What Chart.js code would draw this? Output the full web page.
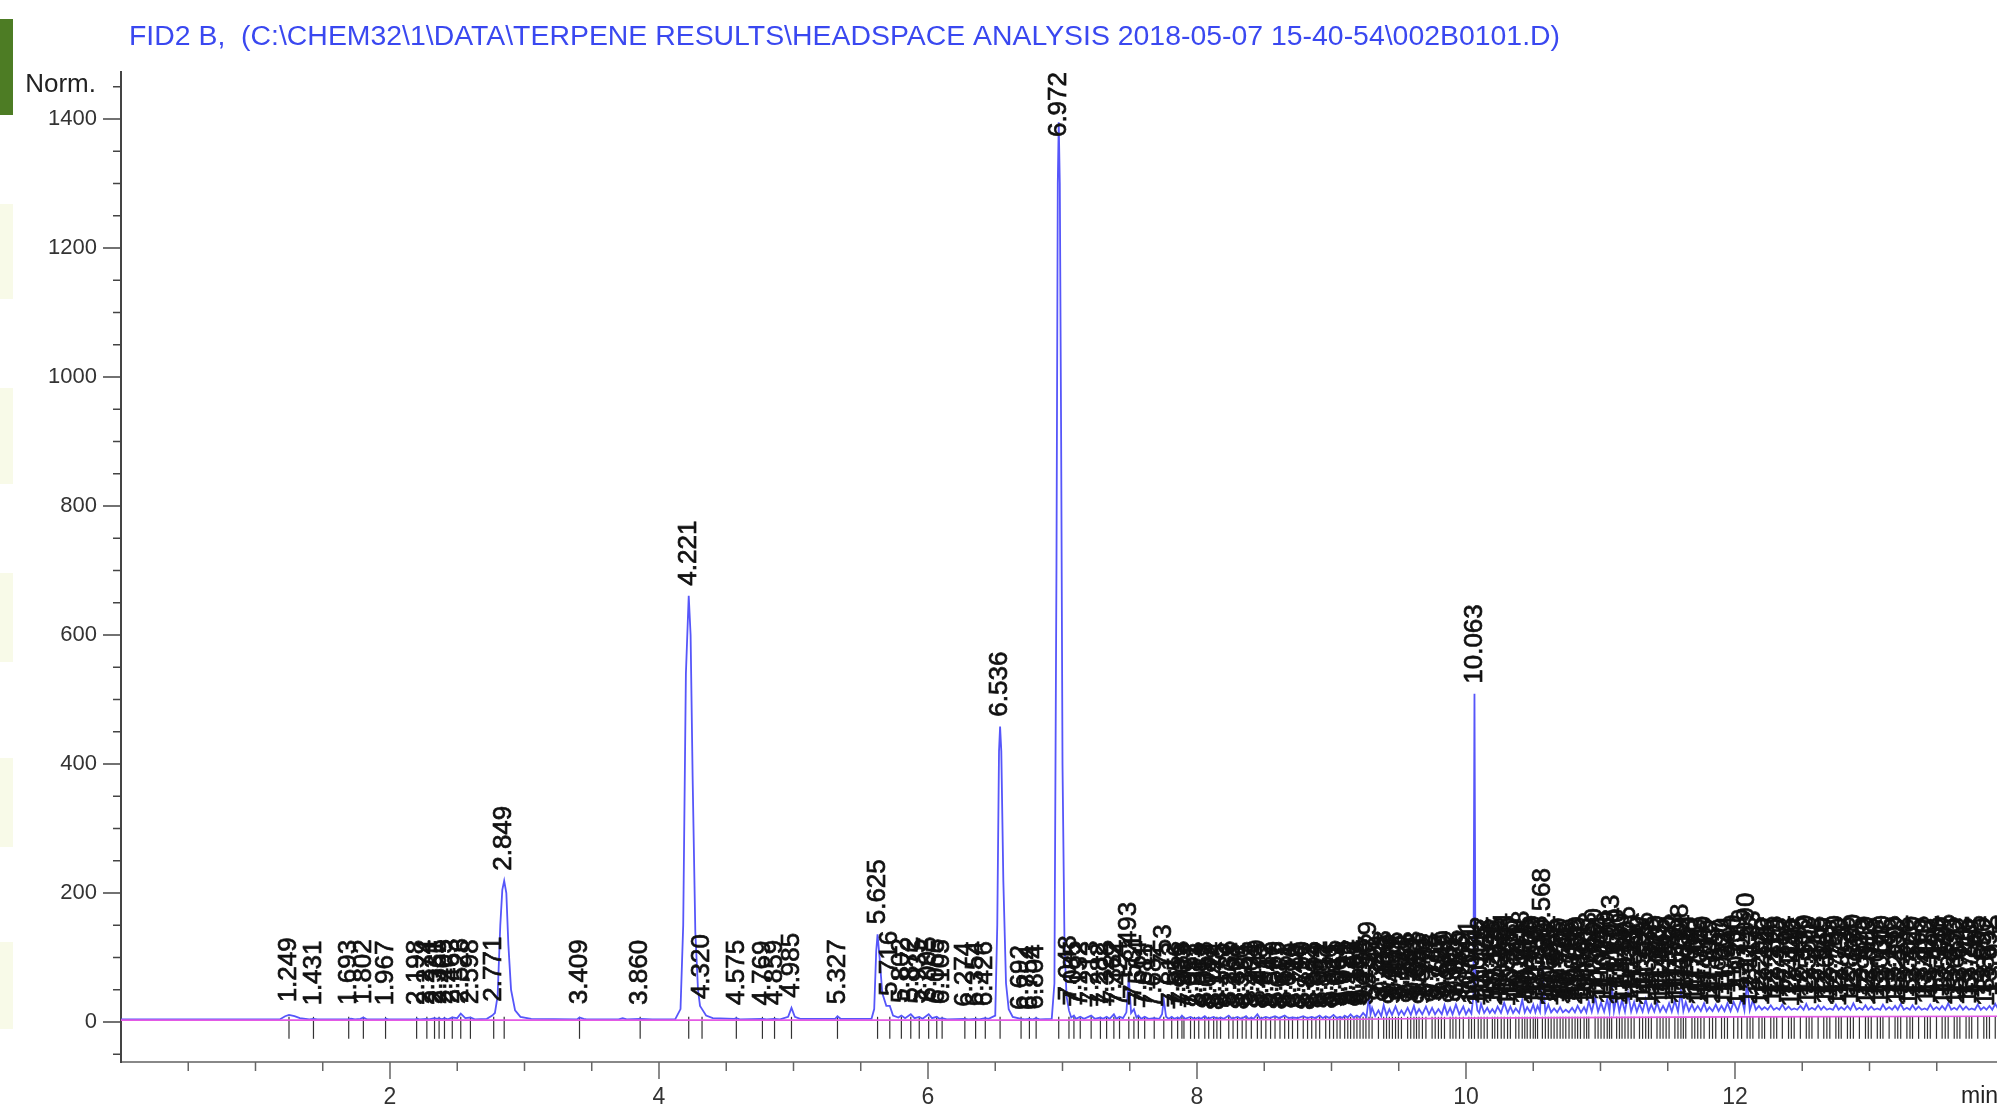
<!DOCTYPE html>
<html>
<head>
<meta charset="utf-8">
<script src="https://cdn.jsdelivr.net/npm/chart.js@4.4.1/dist/chart.umd.min.js"></script>
<style>
html, body { margin: 0; padding: 0; background: #fff; overflow: hidden; }
#wrap { position: relative; width: 1997px; height: 1107px; }
#wrap canvas { position: absolute; left: 0; top: 0; }
.side { position: absolute; left: 0; width: 13px; background: #f8fae8; }
#green { position: absolute; left: 0; top: 19px; width: 13px; height: 96px; background: #4d7c24; }
</style>
</head>
<body>
<div id="wrap">
  <div id="green"></div>
  <div class="side" style="top:204px;height:95px"></div>
  <div class="side" style="top:388px;height:96px"></div>
  <div class="side" style="top:573px;height:89px"></div>
  <div class="side" style="top:758px;height:89px"></div>
  <div class="side" style="top:942px;height:87px"></div>
  <canvas id="chart" width="1997" height="1107"></canvas>
</div>
<script>
// FID2 B signal, terpene headspace run
const titleText = "FID2 B,  (C:\\CHEM32\\1\\DATA\\TERPENE RESULTS\\HEADSPACE ANALYSIS 2018-05-07 15-40-54\\002B0101.D)";
const yLabelValues = [0, 200, 400, 600, 800, 1000, 1200, 1400];
const xLabelValues = [2, 4, 6, 8, 10, 12];

// integrated peaks: retention time (min) and apex height (norm.)
const peakTimes = [
  1.249, 1.431, 1.693, 1.802, 1.967, 2.198, 2.274, 2.331, 2.365, 2.405, 2.463, 2.526, 2.598, 2.771, 2.849,
  3.409, 3.860, 4.221, 4.320, 4.575, 4.769, 4.859, 4.985, 5.327, 5.625, 5.716, 5.802, 5.872, 5.935, 6.005,
  6.065, 6.105, 6.274, 6.354, 6.426, 6.536, 6.692, 6.754, 6.804, 6.972,
  7.048, 7.085, 7.132, 7.213, 7.282, 7.328, 7.382, 7.424, 7.493, 7.531, 7.564, 7.611, 7.682, 7.753, 7.812,
  7.856, 7.888, 7.952, 8.013, 8.058, 8.124, 8.175, 8.236, 8.301, 8.365, 8.404, 8.449, 8.512, 8.580, 8.652,
  8.710, 8.790, 8.853, 8.912, 8.957, 9.015, 9.064, 9.098, 9.142, 9.189, 9.235, 9.279, 9.302, 9.349, 9.388,
  9.430, 9.476, 9.520, 9.566, 9.613, 9.651, 9.702, 9.748, 9.795, 9.840, 9.882, 9.925, 9.980, 10.021, 10.063,
  10.112, 10.158, 10.196, 10.235, 10.284, 10.330, 10.370, 10.418, 10.455, 10.500, 10.532, 10.568, 10.612, 10.655, 10.700,
  10.742, 10.789, 10.830, 10.878, 10.913, 10.960, 11.004, 11.050, 11.083, 11.120, 11.160, 11.205, 11.250, 11.290, 11.336,
  11.378, 11.420, 11.465, 11.510, 11.553, 11.598, 11.634, 11.680, 11.723, 11.770, 11.810, 11.857, 11.900, 11.944, 11.990,
  12.049, 12.090, 12.133, 12.178, 12.220, 12.266, 12.310, 12.352, 12.398, 12.440, 12.486, 12.530, 12.572, 12.618, 12.660,
  12.705, 12.750, 12.790, 12.836, 12.880, 12.925, 12.970, 13.013, 13.058, 13.100, 13.146, 13.190, 13.232, 13.278, 13.320,
  13.365, 13.410, 13.452, 13.498, 13.540, 13.585, 13.630, 13.672, 13.718, 13.760, 13.805, 13.850, 13.892, 13.935,
  7.903, 7.981, 8.087, 8.148, 8.268, 8.336, 8.478, 8.547, 8.617, 8.681, 8.748, 8.822, 8.884, 8.986, 9.041,
  9.121, 9.167, 9.212, 9.256, 9.409, 9.453, 9.497, 9.589, 9.632, 9.676, 9.771, 9.817, 9.903, 9.952, 10.041,
  10.135, 10.262, 10.393, 10.478, 10.590, 10.677, 10.766, 10.851, 10.982, 11.027, 11.182, 11.313, 11.443, 11.576, 11.701,
  10.091, 10.214, 10.309, 10.437, 10.516, 10.633, 10.721, 10.811, 10.897, 11.067, 11.141, 11.228, 11.357, 11.488, 11.616,
  11.746, 11.833, 11.922, 12.021, 12.112, 12.201, 12.289, 12.419, 12.551, 12.683, 12.771, 12.858, 12.991, 13.081, 13.210,
  13.301, 13.431, 13.563, 13.651, 13.741, 13.871
];
const peakHeights = [
  15, 10, 11, 12, 10, 11, 11, 12, 12, 12, 13, 14, 12, 16, 219,
  12, 11, 661, 20, 11, 10, 11, 22, 12, 136, 25, 14, 16, 13, 16,
  13, 12, 8, 9, 9, 458, 3, 3, 4, 1395,
  18, 10, 8, 10, 7, 8, 12, 8, 70, 20, 10, 8, 6, 35, 8,
  7, 10, 8, 7, 9, 8, 7, 10, 8, 9, 7, 12, 8, 9, 10,
  7, 9, 8, 10, 9, 11, 8, 10, 12, 10, 14, 40, 22, 18, 26,
  20, 24, 18, 22, 25, 20, 24, 22, 20, 26, 22, 27, 24, 20, 509,
  28, 22, 20, 24, 30, 24, 21, 34, 23, 27, 25, 100, 27, 21, 23,
  19, 22, 25, 23, 32, 38, 30, 36, 62, 40, 34, 44, 31, 28, 35,
  27, 30, 25, 29, 33, 48, 31, 27, 25, 29, 23, 27, 25, 29, 31,
  37, 62, 34, 25, 23, 26, 22, 27, 24, 21, 25, 28, 22, 26, 24,
  21, 27, 23, 25, 29, 22, 26, 24, 21, 27, 23, 25, 28, 22, 26,
  24, 21, 27, 23, 25, 29, 22, 26, 24, 21, 27, 23, 25, 28,
  4, 6, 5, 3, 6, 4, 5, 7, 4, 6, 5, 3, 6, 5, 7,
  9, 12, 8, 10, 16, 12, 18, 14, 17, 12, 15, 18, 14, 16, 12,
  14, 17, 15, 19, 16, 14, 17, 15, 20, 18, 16, 19, 17, 18, 16,
  9, 11, 8, 12, 10, 9, 13, 10, 11, 12, 10, 13, 9, 11, 12,
  10, 13, 11, 9, 12, 10, 13, 8, 11, 12, 9, 13, 10, 11, 12,
  9, 13, 10, 11, 12, 9
];

// detector trace [time, signal]
const trace = [
  [0.00,4],[1.18,4],[1.22,9],[1.249,11],[1.29,9],[1.33,6],[1.40,4],[1.431,5],[1.46,4],[1.69,4],[1.71,5],[1.74,4],
  [1.78,5],[1.802,7],[1.83,4],[1.96,4],[1.967,5],[1.99,4],[2.19,4],[2.198,5],[2.22,4],[2.274,5],[2.29,4],[2.331,6],
  [2.35,5],[2.365,6],[2.385,4],[2.405,6],[2.43,4],[2.463,7],[2.50,6],[2.526,13],[2.56,6],[2.598,7],[2.63,4],[2.72,5],
  [2.76,10],[2.78,14],[2.80,40],[2.82,150],[2.835,205],[2.849,219],[2.865,200],[2.88,120],[2.90,50],[2.93,18],[2.97,8],
  [3.05,5],[3.39,4],[3.409,7],[3.44,5],[3.46,4],[3.70,4],[3.73,6],[3.76,4],[3.86,5],[3.95,4],[4.12,4],[4.16,20],
  [4.18,150],[4.20,540],[4.221,661],[4.235,600],[4.25,380],[4.27,140],[4.29,50],[4.305,25],[4.32,20],[4.35,10],[4.40,6],
  [4.56,5],[4.575,6],[4.60,4],[4.769,5],[4.80,4],[4.859,5],[4.90,4],[4.96,8],[4.985,22],[5.01,8],[5.05,5],[5.31,5],
  [5.327,9],[5.35,5],[5.58,5],[5.60,20],[5.615,110],[5.625,136],[5.64,100],[5.66,45],[5.69,25],[5.716,25],[5.74,10],
  [5.78,7],[5.802,10],[5.83,6],[5.872,12],[5.90,6],[5.935,8],[5.96,5],[6.005,12],[6.03,6],[6.065,8],[6.085,5],[6.105,6],
  [6.14,4],[6.274,5],[6.30,4],[6.354,5],[6.38,4],[6.426,6],[6.45,5],[6.50,10],[6.515,150],[6.528,420],[6.536,458],
  [6.545,420],[6.56,220],[6.58,60],[6.60,20],[6.63,8],[6.692,5],[6.72,4],[6.754,5],[6.78,4],[6.804,6],[6.83,4],[6.92,5],
  [6.94,60],[6.955,700],[6.965,1300],[6.972,1395],[6.98,1300],[6.99,900],[7.00,400],[7.015,120],[7.03,40],[7.048,18],
  [7.065,7],[7.085,10],[7.10,5],[7.132,8],[7.16,5],[7.213,10],[7.24,5],[7.282,7],[7.30,5],[7.328,8],[7.35,5],[7.382,12],
  [7.40,5],[7.424,8],[7.45,6],[7.475,15],[7.493,70],[7.51,14],[7.531,20],[7.55,7],[7.564,10],[7.585,5],[7.611,8],
  [7.64,5],[7.682,6],[7.72,5],[7.74,12],[7.753,35],[7.77,8],[7.79,5],[7.812,8],[7.83,5],[7.856,7],[7.87,5],[7.888,10],
  [7.91,5],[7.952,8],[7.98,5],[8.013,7],[8.03,5],[8.058,9],[8.08,5],[8.124,8],[8.15,5],[8.175,7],[8.20,5],[8.236,10],
  [8.26,5],[8.301,8],[8.33,5],[8.365,9],[8.385,5],[8.404,7],[8.42,5],[8.449,12],[8.47,5],[8.512,8],[8.54,6],[8.580,9],
  [8.61,6],[8.652,10],[8.68,6],[8.710,7],[8.75,6],[8.790,9],[8.82,6],[8.853,8],[8.88,6],[8.912,10],[8.935,6],[8.957,9],
  [8.985,6],[9.015,11],[9.04,6],[9.064,8],[9.08,6],[9.098,10],[9.12,7],[9.142,12],[9.165,7],[9.189,10],[9.21,7],
  [9.235,14],[9.26,8],[9.279,40],[9.29,12],[9.302,22],[9.325,9],[9.349,18],[9.37,9],[9.388,26],[9.41,10],[9.430,20],
  [9.45,11],[9.476,24],[9.50,11],[9.520,18],[9.54,11],[9.566,22],[9.59,11],[9.613,25],[9.63,12],[9.651,20],[9.675,12],
  [9.702,24],[9.725,12],[9.748,22],[9.77,12],[9.795,20],[9.82,12],[9.840,26],[9.86,12],[9.882,22],[9.90,12],[9.925,27],
  [9.95,12],[9.980,24],[10.00,12],[10.021,20],[10.04,13],[10.055,40],[10.063,509],[10.071,40],
  [10.085,18],[10.098,14],[10.112,28],[10.135,14],[10.158,22],[10.177,14],[10.196,20],[10.215,14],[10.235,24],[10.26,14],
  [10.284,30],[10.31,14],[10.330,24],[10.35,14],[10.370,21],[10.395,14],[10.418,34],[10.437,15],[10.455,23],[10.478,15],
  [10.500,27],[10.516,15],[10.532,25],[10.55,16],[10.562,60],[10.568,100],[10.574,60],[10.59,15],[10.612,27],[10.633,15],
  [10.655,21],[10.678,15],[10.700,23],[10.72,15],[10.742,19],[10.765,15],[10.789,22],[10.81,15],[10.830,25],[10.855,15],
  [10.878,23],[10.895,15],[10.913,32],[10.935,16],[10.960,38],[10.982,16],[11.004,30],[11.027,16],[11.050,36],[11.067,16],
  [11.083,62],[11.10,17],[11.120,40],[11.14,16],[11.160,34],[11.182,16],[11.205,44],[11.228,16],[11.250,31],[11.27,16],
  [11.290,28],[11.313,16],[11.336,35],[11.357,16],[11.378,27],[11.40,16],[11.420,30],[11.443,16],[11.465,25],[11.488,16],
  [11.510,29],[11.53,16],[11.553,33],[11.576,16],[11.598,48],[11.616,17],[11.634,31],[11.657,17],[11.680,27],[11.70,17],
  [11.723,25],[11.746,17],[11.770,29],[11.79,17],[11.810,23],[11.833,17],[11.857,27],[11.878,17],[11.900,25],[11.922,17],
  [11.944,29],[11.967,17],[11.990,31],[12.02,17],[12.049,37],[12.07,18],[12.090,62],[12.11,18],[12.133,34],[12.155,19],
  [12.178,25],[12.20,19],[12.220,23],[12.243,19],[12.266,26],[12.288,19],[12.310,22],[12.33,19],[12.352,27],[12.375,19],
  [12.398,24],[12.42,19],[12.440,21],[12.463,19],[12.486,25],[12.51,19],[12.530,28],[12.55,19],[12.572,22],[12.595,19],
  [12.618,26],[12.64,19],[12.660,24],[12.683,19],[12.705,21],[12.728,19],[12.750,27],[12.77,19],[12.790,23],[12.813,19],
  [12.836,25],[12.858,19],[12.880,29],[12.903,19],[12.925,22],[12.948,19],[12.970,26],[12.99,19],[13.013,24],[13.035,19],
  [13.058,21],[13.08,19],[13.100,27],[13.123,19],[13.146,23],[13.168,19],[13.190,25],[13.21,19],[13.232,28],[13.255,19],
  [13.278,22],[13.30,19],[13.320,26],[13.343,19],[13.365,24],[13.388,19],[13.410,21],[13.43,19],[13.452,27],[13.475,19],
  [13.498,23],[13.52,19],[13.540,25],[13.563,19],[13.585,29],[13.608,19],[13.630,22],[13.65,19],[13.672,26],[13.695,19],
  [13.718,24],[13.74,19],[13.760,21],[13.783,19],[13.805,27],[13.828,19],[13.850,23],[13.87,19],[13.892,25],[13.913,19],
  [13.935,28],[13.96,19],[14.00,19]
];

// integration baseline [time, signal]
const baseline = [[0.00,3],[7.00,3],[9.00,4],[10.00,6],[12.00,8],[14.00,9]];

const FONT = '"Liberation Sans", Arial, Helvetica, sans-serif';
const markerLevel = -9;

// axis tick marks, major longer than minor
const tickMarks = {
  id: "tickMarks",
  afterDraw(chart){
    const ctx = chart.ctx;
    const xs = chart.scales.x, ys = chart.scales.y;
    ctx.save();
    ctx.strokeStyle = "#444";
    ctx.lineWidth = 1.5;
    ctx.beginPath();
    for(let i in ys.ticks){
      const v = ys.ticks[i].value;
      const py = ys.getPixelForValue(v);
      const len = yLabelValues.includes(v) ? 18 : 8;
      ctx.moveTo(ys.right - len, py);
      ctx.lineTo(ys.right, py);
    }
    ctx.stroke();
    ctx.strokeStyle = "#666";
    ctx.beginPath();
    for(let i in xs.ticks){
      const v = xs.ticks[i].value;
      const px = xs.getPixelForValue(v);
      const len = xLabelValues.includes(v) ? 17 : 9;
      ctx.moveTo(px, xs.top);
      ctx.lineTo(px, xs.top + len);
    }
    ctx.stroke();
    ctx.restore();
  }
};

// rotated retention-time labels above each apex
const peakLabels = {
  id: "peakLabels",
  afterDatasetsDraw(chart){
    const ctx = chart.ctx;
    const area = chart.chartArea;
    const xs = chart.scales.x, ys = chart.scales.y;
    ctx.save();
    ctx.font = "26px " + FONT;
    ctx.fillStyle = "#111";
    ctx.strokeStyle = "#111";
    ctx.lineWidth = 0.7;
    ctx.textAlign = "left";
    ctx.textBaseline = "middle";
    for(let i = 0; i < peakTimes.length; i++){
      const t = peakTimes[i];
      if(t > xs.max) continue;
      const txt = t.toFixed(3);
      const w = ctx.measureText(txt).width;
      const px = xs.getPixelForValue(t);
      let bottom = ys.getPixelForValue(peakHeights[i]) - 10;
      if(bottom - w < area.top) bottom = area.top + w;
      ctx.save();
      ctx.translate(px, bottom);
      ctx.rotate(-Math.PI / 2);
      ctx.fillText(txt, 0, 0);
      ctx.strokeText(txt, 0, 0);
      ctx.restore();
    }
    ctx.restore();
  }
};

// header text, "Norm." and "min"
const headerText = {
  id: "headerText",
  afterDraw(chart){
    const ctx = chart.ctx;
    ctx.save();
    ctx.textBaseline = "middle";
    ctx.font = "27px " + FONT;
    ctx.fillStyle = "#3a48f0";
    const w = ctx.measureText(titleText).width;
    ctx.save();
    ctx.translate(129, 38);
    ctx.scale(1431 / w, 1);
    ctx.textAlign = "left";
    ctx.fillText(titleText, 0, 0);
    ctx.restore();

    ctx.fillStyle = "#222";
    ctx.font = "26px " + FONT;
    ctx.textAlign = "right";
    ctx.fillText("Norm.", 96, 85);
    ctx.font = "23px " + FONT;
    ctx.textAlign = "left";
    ctx.fillText("min", 1961, 1097);
    ctx.restore();
  }
};

new Chart(document.getElementById("chart").getContext("2d"), {
  type: "scatter",
  data: {
    datasets: [
      {
        label: "baseline",
        data: baseline.map(p => ({x: p[0], y: p[1]})),
        showLine: true,
        borderColor: "rgb(228,90,228)",
        borderWidth: 1.6,
        pointRadius: 0
      },
      {
        label: "FID2 B",
        data: trace.map(p => ({x: p[0], y: p[1]})),
        showLine: true,
        borderColor: "rgb(86,86,250)",
        borderWidth: 1.8,
        pointRadius: 0
      },
      {
        label: "peak marks",
        data: peakTimes.map(t => ({x: t, y: markerLevel})),
        pointStyle: "line",
        rotation: 90,
        radius: 11,
        borderColor: "#333",
        borderWidth: 1.2
      }
    ]
  },
  options: {
    responsive: false,
    devicePixelRatio: 1,
    animation: false,
    events: [],
    layout: { autoPadding: false, padding: { top: 72, right: 0, left: 0, bottom: 0 } },
    plugins: { legend: { display: false }, tooltip: { enabled: false } },
    scales: {
      x: {
        type: "linear",
        min: 0,
        max: 13.948,
        afterBuildTicks: function(scale){
          const t = [];
          for(let v = 0.5; v <= 13.5; v += 0.5) t.push({value: v});
          scale.ticks = t;
        },
        afterFit: function(scale){
          scale.height = 45;
          scale.paddingLeft = 0;
          scale.paddingRight = 0;
        },
        ticks: {
          callback: v => xLabelValues.includes(v) ? String(v) : "",
          autoSkip: false,
          maxRotation: 0,
          padding: 22,
          color: "#333",
          font: { family: FONT, size: 23 }
        },
        grid: { display: false, drawTicks: false },
        border: { display: true, color: "#888", width: 2 }
      },
      y: {
        type: "linear",
        min: -62,
        max: 1473,
        afterBuildTicks: function(scale){
          const t = [];
          for(let v = -50; v <= 1450; v += 50) t.push({value: v});
          scale.ticks = t;
        },
        afterFit: function(scale){
          scale.width = 121;
          scale.paddingTop = 0;
          scale.paddingBottom = 0;
        },
        ticks: {
          callback: v => yLabelValues.includes(v) ? String(v) : "",
          autoSkip: false,
          padding: 24,
          color: "#333",
          font: { family: FONT, size: 22 }
        },
        grid: { display: false, drawTicks: false },
        border: { display: true, color: "#444", width: 2 }
      }
    }
  },
  plugins: [tickMarks, peakLabels, headerText]
});
</script>
</body>
</html>
